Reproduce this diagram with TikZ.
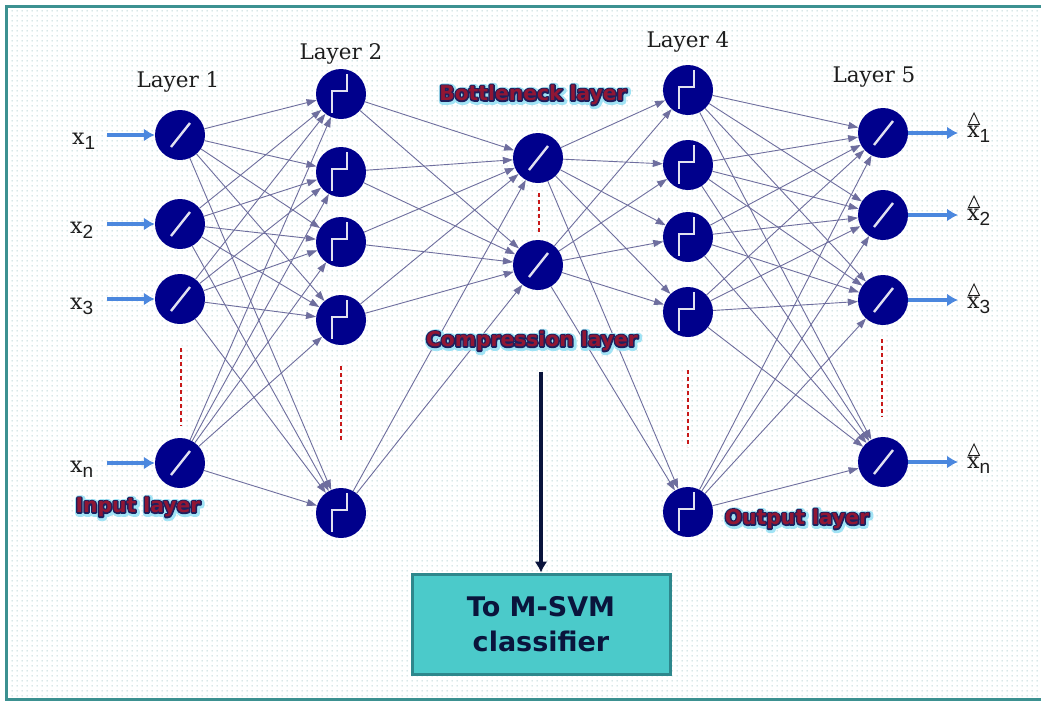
\documentclass[tikz,border=0pt]{standalone}
\usepackage{fontspec}
\newfontfamily\dvs{DejaVu Sans}
\newfontfamily\dvserif{DejaVu Serif}
\newfontfamily\lsans{Liberation Sans}
\usetikzlibrary{arrows.meta,patterns.meta}
\definecolor{nodeblue}{RGB}{0,0,140}
\definecolor{connc}{RGB}{110,110,158}
\definecolor{inarr}{RGB}{75,135,222}
\definecolor{framec}{RGB}{60,145,145}
\definecolor{dotc}{RGB}{145,188,192}
\definecolor{dashred}{RGB}{200,25,25}
\definecolor{labred}{RGB}{145,22,52}
\definecolor{labnavy}{RGB}{28,32,95}
\definecolor{labglow}{RGB}{160,228,245}
\definecolor{boxfill}{RGB}{75,202,202}
\definecolor{boxline}{RGB}{45,135,140}
\definecolor{boxtext}{RGB}{10,20,60}
\definecolor{glyphc}{RGB}{225,225,240}
\definecolor{txtc}{RGB}{30,30,30}

\tikzdeclarepattern{
  name=bgdots,
  type=colored,
  bounding box={(0pt,0pt) and (5pt,5pt)},
  tile size={(5pt,5pt)},
  code={\fill[dotc] (2.5pt,2.5pt) circle (0.7pt);}
}

\newcommand\xsub[1]{x\raisebox{-5pt}{\fontsize{19}{19}\lsans #1}}
\newcommand\strokedtext[3]{\special{pdf:literal direct 2 Tr 1 j #1 w #2 RG}#3\special{pdf:literal direct 0 Tr}}
\newcommand\glowlab[4]{%
  \node[redlab,text=labglow,shift={(1,1)}] at (#2,#3) {\strokedtext{6.5}{0.63 0.89 0.96}{#4}};
  \node[redlab,text=labnavy] at (#2,#3) {\strokedtext{2.8}{0.11 0.125 0.37}{#4}};
  \node[redlab,text=labred] (#1) at (#2,#3) {#4};
}

\begin{document}
\begin{tikzpicture}[x=1pt,y=-1pt,
  neuron/.style={circle, fill=nodeblue, minimum size=50pt, inner sep=0pt},
  conn/.style={draw=connc, line width=0.9pt, -{Triangle[length=10pt,width=7pt]}},
  glyph/.style={draw=glyphc, line width=2.4pt},
  inarrow/.style={draw=inarr, line width=3.2pt, -{Latex[length=11pt,width=13pt]}},
  dashmark/.style={draw=dashred, line width=2pt, dash pattern=on 4pt off 3pt},
  layerlab/.style={font=\dvserif\fontsize{21.5}{21.5}\selectfont, text=txtc, inner sep=0pt},
  xlab/.style={font=\dvserif\fontsize{22}{22}\selectfont, text=txtc, inner sep=0pt, anchor=base west},
  redlab/.style={font=\dvs\bfseries\fontsize{20.3}{20.3}\selectfont, inner sep=0pt},
  svmbox/.style={draw=boxline, line width=3pt, fill=boxfill, minimum width=258pt, minimum height=100pt,
    align=center, text=boxtext, font=\dvs\bfseries\fontsize{27}{35}\selectfont},
  bigarrow/.style={draw=boxtext, line width=3.5pt, -{Latex[length=11pt,width=13pt]}}
]
\useasboundingbox (0,0) rectangle (1041,702);
\fill[white] (0,0) rectangle (1041,702);
\fill[pattern=bgdots] (6,6) rectangle (1045,699);
\draw[framec, line width=3pt] (6,6) rectangle (1046,699);

% neurons
\foreach \y [count=\i] in {135,224,299,463} \node[neuron] (a\i) at (180,\y) {};
\foreach \y [count=\i] in {94,172,242,320,513} \node[neuron] (b\i) at (341,\y) {};
\foreach \y [count=\i] in {158,265} \node[neuron] (c\i) at (538,\y) {};
\foreach \y [count=\i] in {90,165,237,312,512} \node[neuron] (d\i) at (688,\y) {};
\foreach \y [count=\i] in {133,215,300,462} \node[neuron] (e\i) at (883,\y) {};

% connectors
\foreach \i in {1,...,4} \foreach \j in {1,...,5} \draw[conn] (a\i) -- (b\j);
\foreach \i in {1,...,5} \foreach \j in {1,2} \draw[conn] (b\i) -- (c\j);
\foreach \i in {1,2} \foreach \j in {1,...,5} \draw[conn] (c\i) -- (d\j);
\foreach \i in {1,...,5} \foreach \j in {1,...,4} \draw[conn] (d\i) -- (e\j);

% glyphs
\foreach \n in {a1,a2,a3,a4,c1,c2,e1,e2,e3,e4}
  \draw[glyph] ([shift={(-9,12)}]\n.center) -- ([shift={(10,-12)}]\n.center);
\foreach \n in {b1,b2,b3,b4,b5,d1,d2,d3,d4,d5}
  \draw[glyph] ([shift={(-9,19)}]\n.center) -- ([shift={(-9,-3)}]\n.center)
     -- ([shift={(6,-3)}]\n.center) -- ([shift={(6,-20)}]\n.center);

% input arrows and labels
\foreach \y [count=\i] in {135,224,299,463} {
  \coordinate (in\i) at (107,\y);
  \draw[inarrow] (in\i) -- (a\i);
}
\node[xlab] (lx1) at (72,144) {\xsub{1}};
\node[xlab] (lx2) at (70,233) {\xsub{2}};
\node[xlab] (lx3) at (70,309) {\xsub{3}};
\node[xlab] (lxn) at (70,472) {\xsub{n}};

% output arrows and labels
\foreach \y [count=\i] in {133,215,300,462} {
  \coordinate (out\i) at (958,\y);
  \draw[inarrow] (e\i) -- (out\i);
}
\foreach \b [count=\i] in {137,220,308,468} {
  \node[xlab] (ox\i) at (967,\b) {\xsub{\ifcase\i\or 1\or 2\or 3\or n\fi}};
  \draw[txtc, line width=0.9pt] (974,\b-24) -- (968.5,\b-12.5) -- (979.5,\b-12.5) -- cycle;
}

% dashed ellipsis marks
\draw[dashmark] (181,348) -- (181,426);
\draw[dashmark] (341,366) -- (341,442);
\draw[dashmark] (539,193) -- (539,232);
\draw[dashmark] (688,370) -- (688,447);
\draw[dashmark] (882,339) -- (882,417);

% layer labels
\node[layerlab] (L1) at (178,82) {Layer 1};
\node[layerlab] (L2) at (341,54) {Layer 2};
\node[layerlab] (L4) at (688,42) {Layer 4};
\node[layerlab] (L5) at (874,77) {Layer 5};

% highlighted labels
\glowlab{bn}{533}{95}{Bottleneck layer}
\glowlab{cp}{532}{341}{Compression layer}
\glowlab{il}{138}{507}{Input layer}
\glowlab{ol}{797}{519}{Output layer}

% classifier box
\node[svmbox] (svm) at (541,624) {To M-SVM\\classifier};
\coordinate (cpout) at (541,372);
\draw[bigarrow] (cpout) -- (svm.north);
\end{tikzpicture}
\end{document}
